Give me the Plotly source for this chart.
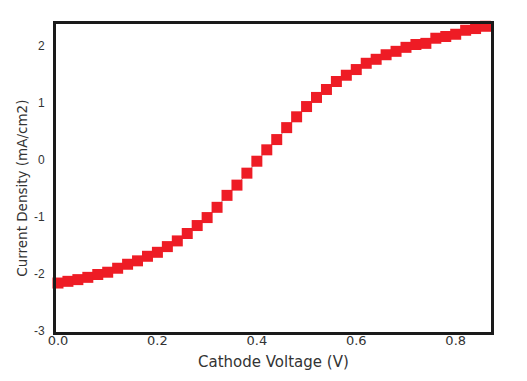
import plotly.graph_objects as go

voltage = [0.00, 0.02, 0.04, 0.06, 0.08, 0.10, 0.12, 0.14, 0.16, 0.18,
           0.20, 0.22, 0.24, 0.26, 0.28, 0.30, 0.32, 0.34, 0.36, 0.38,
           0.40, 0.42, 0.44, 0.46, 0.48, 0.50, 0.52, 0.54, 0.56, 0.58,
           0.60, 0.62, 0.64, 0.66, 0.68, 0.70, 0.72, 0.74, 0.76, 0.78,
           0.80, 0.82, 0.84, 0.86]
current_density = [-2.16, -2.13, -2.10, -2.06, -2.01, -1.97, -1.90, -1.83, -1.77, -1.69,
                   -1.62, -1.52, -1.42, -1.29, -1.15, -1.01, -0.83, -0.62, -0.44, -0.23,
                   -0.02, 0.18, 0.36, 0.57, 0.76, 0.94, 1.10, 1.24, 1.38, 1.49,
                   1.59, 1.70, 1.77, 1.85, 1.91, 1.98, 2.03, 2.05, 2.14, 2.17,
                   2.21, 2.28, 2.31, 2.35]

x_ticks = [0.0, 0.2, 0.4, 0.6, 0.8]
x_tick_labels = ["0.0", "0.2", "0.4", "0.6", "0.8"]
y_ticks = [-3, -2, -1, 0, 1, 2]
y_tick_labels = ["-3", "-2", "-1", "0", "1", "2"]

fig = go.Figure()
fig.add_trace(go.Scatter(
    x=voltage, y=current_density, mode="lines+markers",
    line=dict(color="#444444", width=0.6),
    marker=dict(symbol="square", size=11, color="#EE1C25", line=dict(width=0)),
    cliponaxis=False, showlegend=False,
))

axis_common = dict(showline=True, linewidth=3, linecolor="#1a1a1a", mirror=True,
                   showgrid=False, zeroline=False)

fig.update_layout(
    width=519, height=373,
    margin=dict(l=48, r=36, t=16, b=49),
    paper_bgcolor="white", plot_bgcolor="white",
    xaxis=dict(range=[-0.004, 0.871], tickvals=x_ticks, ticktext=x_tick_labels,
               tickfont=dict(family="DejaVu Sans", size=13, color="#333333"),
               ticks="", ticklabelstandoff=-6, **axis_common),
    yaxis=dict(range=[-3.02, 2.39], tickvals=y_ticks, ticktext=y_tick_labels,
               tickfont=dict(family="Liberation Sans", size=12, color="#333333"),
               ticks="outside", ticklen=6, tickcolor="rgba(0,0,0,0)", **axis_common),
    annotations=[
        dict(text="Cathode Voltage (V)", xref="paper", yref="paper",
             x=0.5, y=0, yshift=-30, xanchor="center", yanchor="middle",
             showarrow=False, font=dict(family="DejaVu Sans", size=15, color="#333333")),
        dict(text="Current Density (mA/cm2)", xref="paper", yref="paper",
             x=0, xshift=-34, y=0.465, xanchor="center", yanchor="middle", textangle=-90,
             showarrow=False, font=dict(family="DejaVu Sans", size=13.5, color="#333333")),
    ],
)

fig.write_html("out.html")
